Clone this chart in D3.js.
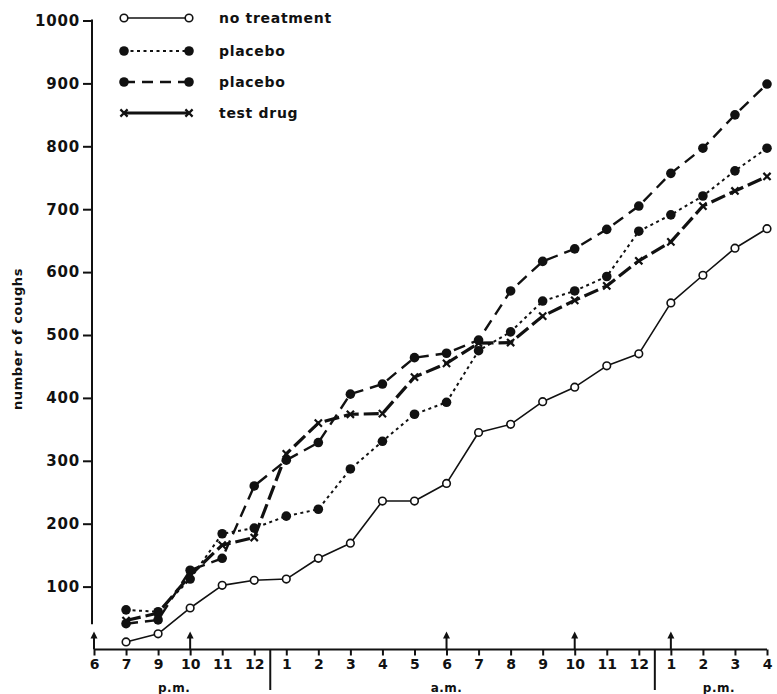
<!DOCTYPE html>
<html>
<head>
<meta charset="utf-8">
<script src="https://cdn.jsdelivr.net/npm/d3@7/dist/d3.min.js"></script>
<style>
  body { margin: 0; background: #fff; }
  svg { display: block; }
  text { font-family: "DejaVu Sans", sans-serif; font-weight: bold; fill: #111; }
</style>
</head>
<body>
<svg id="chart" width="777" height="694"></svg>
<script>
// ---- data ----
const categories = ["6","7","9","10","11","12","1","2","3","4","5","6","7","8","9","10","11","12","1","2","3","4"];
// values at positions 1..21 (7 p.m. .. 4 p.m.); position 0 (6 p.m.) has no value
const noTreatment = [null, 12, 25, 66, 102, 110, 112, 145, 169, 236, 236, 264, 345, 358, 394, 417, 451, 470, 551, 595, 638, 669];
const placeboDotted = [null, 63, 60, 112, 184, 193, 212, 223, 287, 331, 374, 393, 475, 505, 554, 570, 593, 665, 691, 721, 761, 797];
const placeboDashed = [null, 41, 47, 126, 145, 260, 301, 329, 406, 422, 464, 471, 492, 570, 617, 637, 668, 705, 757, 797, 850, 899];
const testDrug = [null, 46, 58, 118, 166, 178, 311, 360, 374, 375, 433, 455, 487, 488, 530, 555, 578, 618, 648, 705, 729, 752];
const yTicks = [100, 200, 300, 400, 500, 600, 700, 800, 900, 1000];
const arrowAt = [0, 3, 11, 15, 18];
const periodLabels = [
  { text: "p.m.", from: 2, to: 3 },
  { text: "a.m.", from: 11, to: 11 },
  { text: "p.m.", from: 19, to: 20 }
];
const dividers = [[5, 6], [17, 18]];
const seriesNames = ["no treatment", "placebo", "placebo", "test drug"];

// ---- layout ----
const svg = d3.select("#chart");
const axisY = 649.5;
const x = d3.scalePoint().domain(d3.range(categories.length)).range([94, 767]);
const y = d3.scaleLinear().domain([0, 1000]).range([axisY, 20.5]);

const series = [
  { name: seriesNames[0], values: noTreatment, dash: null, width: 1.6, marker: "open" },
  { name: seriesNames[1], values: placeboDotted, dash: "3,3.5", width: 2, marker: "dot" },
  { name: seriesNames[2], values: placeboDashed, dash: "12,7", width: 2.4, marker: "dot" },
  { name: seriesNames[3], values: testDrug, dash: "15,5", width: 3.2, marker: "x" }
];

// ---- axes ----
const yAxis = d3.axisLeft(y).tickValues(yTicks).tickSize(9).tickPadding(3).tickFormat(d3.format("d"));
const gy = svg.append("g").attr("transform", "translate(92,0)").call(yAxis);
gy.select(".domain").remove();
gy.selectAll(".tick line").attr("stroke", "#111").attr("stroke-width", 2);
gy.selectAll(".tick text").style("font-size", "15px").style("letter-spacing", "0.8px").attr("fill", "#111");
svg.append("line").attr("x1", 92).attr("x2", 92).attr("y1", y(1000) - 1).attr("y2", y(40))
  .attr("stroke", "#111").attr("stroke-width", 2);

const xAxis = d3.axisBottom(x).tickSize(6).tickPadding(4).tickFormat(i => categories[i]);
const gx = svg.append("g").attr("transform", `translate(0,${axisY})`).call(xAxis);
gx.select(".domain").attr("d", `M${x(0)},0H${x(categories.length - 1)}`).attr("stroke", "#111").attr("stroke-width", 2.2);
gx.selectAll(".tick line").attr("stroke", "#111").attr("stroke-width", 2);
gx.selectAll(".tick text").style("font-size", "14px").attr("fill", "#111");

// dividers
dividers.forEach(([a, b]) => {
  const xm = (x(a) + x(b)) / 2;
  svg.append("line").attr("x1", xm).attr("x2", xm).attr("y1", axisY).attr("y2", 690)
    .attr("stroke", "#111").attr("stroke-width", 2);
});
// period labels
periodLabels.forEach(p => {
  svg.append("text").attr("x", (x(p.from) + x(p.to)) / 2).attr("y", 692)
    .attr("text-anchor", "middle").style("font-size", "12px").style("letter-spacing", "0.5px").text(p.text);
});
// arrows
arrowAt.forEach(i => {
  const xa = x(i);
  svg.append("line").attr("x1", xa).attr("x2", xa).attr("y1", axisY).attr("y2", axisY - 13)
    .attr("stroke", "#111").attr("stroke-width", 2);
  svg.append("path").attr("d", `M${xa},${axisY - 18}L${xa - 3.5},${axisY - 11}L${xa + 3.5},${axisY - 11}Z`).attr("fill", "#111");
});

// y label
svg.append("text").attr("transform", "translate(22,339) rotate(-90)").attr("text-anchor", "middle")
  .style("font-size", "13px").style("letter-spacing", "0.6px").text("number of coughs");

// ---- lines ----
const line = d3.line().defined(d => d.v != null).x(d => x(d.i)).y(d => y(d.v));
function drawMarker(g, m, cx, cy) {
  if (m === "open") {
    g.append("circle").attr("cx", cx).attr("cy", cy).attr("r", 3.8).attr("fill", "#fff").attr("stroke", "#111").attr("stroke-width", 1.6);
  } else if (m === "dot") {
    g.append("circle").attr("cx", cx).attr("cy", cy).attr("r", 4.8).attr("fill", "#111");
  } else {
    const s = 3.6;
    g.append("path").attr("d", `M${cx - s},${cy - s}L${cx + s},${cy + s}M${cx + s},${cy - s}L${cx - s},${cy + s}`)
      .attr("stroke", "#111").attr("stroke-width", 2.2).attr("fill", "none");
  }
}
series.forEach(s => {
  const pts = s.values.map((v, i) => ({ i, v }));
  svg.append("path").datum(pts).attr("d", line).attr("fill", "none").attr("stroke", "#111")
    .attr("stroke-width", s.width).attr("stroke-dasharray", s.dash).attr("stroke-linejoin", "round");
});
series.forEach(s => {
  const g = svg.append("g");
  s.values.forEach((v, i) => { if (v != null) drawMarker(g, s.marker, x(i), y(v)); });
});

// ---- legend ----
const legendRows = [18, 51, 82, 113];
series.forEach((s, k) => {
  const ly = legendRows[k];
  const g = svg.append("g");
  g.append("line").attr("x1", 124).attr("x2", 189).attr("y1", ly).attr("y2", ly)
    .attr("stroke", "#111").attr("stroke-width", s.width)
    .attr("stroke-dasharray", k === 3 ? null : (k === 2 ? "11,7" : s.dash));
  drawMarker(g, s.marker, 124, ly);
  drawMarker(g, s.marker, 189, ly);
  g.append("text").attr("x", 219).attr("y", ly + 5).style("font-size", "14px").style("letter-spacing", "0.7px").text(s.name);
});
</script>
</body>
</html>
